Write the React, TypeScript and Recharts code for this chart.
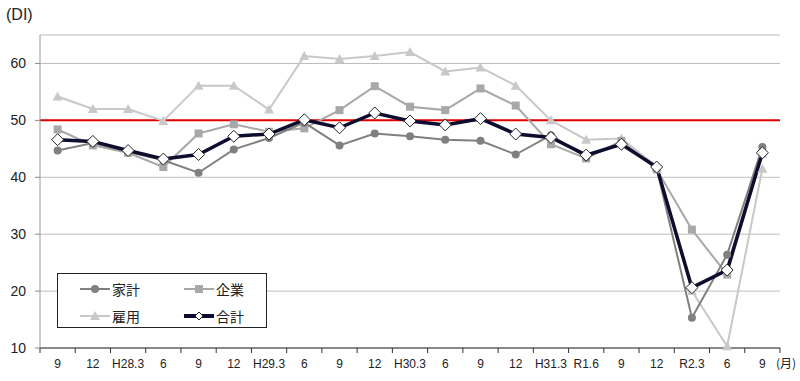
import {
  CartesianGrid,
  Line,
  LineChart,
  ReferenceLine,
  XAxis,
  YAxis,
} from "recharts";

const periods = [
  "9", "12", "H28.3", "6", "9", "12", "H29.3", "6", "9", "12", "H30.3",
  "6", "9", "12", "H31.3", "R1.6", "9", "12", "R2.3", "6", "9",
];
const household = [44.7, 46.0, 44.5, 43.0, 40.8, 44.9, 46.9, 49.6, 45.6, 47.7, 47.2, 46.6, 46.4, 44.0, 47.4, 43.5, 46.0, 41.6, 15.3, 26.4, 45.3];
const corporate = [48.4, 45.6, 44.3, 41.8, 47.7, 49.3, 48.0, 48.6, 51.8, 56.0, 52.4, 51.8, 55.6, 52.6, 45.8, 43.3, 46.4, 41.4, 30.8, 22.9, 44.2];
const employment = [54.2, 52.0, 52.0, 49.9, 56.1, 56.1, 51.9, 61.3, 60.8, 61.3, 62.0, 58.6, 59.3, 56.1, 50.0, 46.6, 46.8, 41.9, 20.0, 10.3, 41.5];
const total = [46.6, 46.3, 44.7, 43.2, 44.0, 47.2, 47.6, 50.1, 48.7, 51.3, 49.9, 49.2, 50.3, 47.6, 47.0, 43.9, 45.8, 41.8, 20.6, 23.7, 44.3];
const yTicks = [10, 20, 30, 40, 50, 60];

const data = periods.map((p, i) => ({
  idx: i,
  period: p,
  household: household[i],
  corporate: corporate[i],
  employment: employment[i],
  total: total[i],
}));

const FONT = "'Liberation Sans', 'Noto Sans CJK JP', sans-serif";
const JP = "'Noto Sans CJK JP', sans-serif";
const PLOT_W = 740;
const HALF = PLOT_W / periods.length / 2;

const C_HH = "#808080";
const C_CO = "#a8a8a8";
const C_EM = "#c8c8c8";
const C_TO = "#0d0d30";

const SquareDot = (props: any) => {
  const { cx, cy } = props;
  if (cx == null || cy == null) return null;
  return <rect x={cx - 4} y={cy - 4} width={8} height={8} fill={C_CO} />;
};

const TriangleDot = (props: any) => {
  const { cx, cy } = props;
  if (cx == null || cy == null) return null;
  return (
    <polygon
      points={`${cx},${cy - 5} ${cx + 5},${cy + 4} ${cx - 5},${cy + 4}`}
      fill={C_EM}
    />
  );
};

const DiamondDot = (props: any) => {
  const { cx, cy } = props;
  if (cx == null || cy == null) return null;
  return (
    <polygon
      points={`${cx},${cy - 6} ${cx + 6},${cy} ${cx},${cy + 6} ${cx - 6},${cy}`}
      fill="#fff"
      stroke="#222"
      strokeWidth={1}
    />
  );
};

const XTick = (props: any) => {
  const { x, y, payload, index } = props;
  const last = index === periods.length - 1;
  return (
    <g>
      <line x1={x - HALF} x2={x - HALF} y1={y - 5} y2={y} stroke="#333" />
      {last && (
        <line x1={x + HALF} x2={x + HALF} y1={y - 5} y2={y} stroke="#333" />
      )}
      <text
        x={x}
        y={y + 15}
        textAnchor="middle"
        fontSize={12}
        fontFamily={FONT}
        fill="#222"
      >
        {periods[payload.value]}
      </text>
    </g>
  );
};

const legendItems = [
  { name: "家計", color: C_HH, kind: "circle" },
  { name: "企業", color: C_CO, kind: "square" },
  { name: "雇用", color: C_EM, kind: "triangle" },
  { name: "合計", color: C_TO, kind: "diamond" },
];

const LegendIcon = ({ kind, color }: { kind: string; color: string }) => (
  <svg width={30} height={12} style={{ display: "block" }}>
    <line x1={0} x2={30} y1={6} y2={6} stroke={color} strokeWidth={kind === "diamond" ? 4 : 2} />
    {kind === "circle" && <circle cx={15} cy={6} r={4} fill={color} />}
    {kind === "square" && <rect x={11} y={2} width={8} height={8} fill={color} />}
    {kind === "triangle" && <polygon points="15,1 20,10 10,10" fill={color} />}
    {kind === "diamond" && (
      <polygon points="15,2 19,6 15,10 11,6" fill="#fff" stroke="#222" strokeWidth={1} />
    )}
  </svg>
);

const LegendBox = () => (
  <div
    style={{
      position: "absolute",
      left: 57,
      top: 273,
      width: 210,
      height: 55,
      border: "1px solid #222",
      background: "#fff",
      display: "grid",
      gridTemplateColumns: "104px 104px",
      gridTemplateRows: "28px 26px",
      boxSizing: "border-box",
      paddingLeft: 22,
      paddingTop: 1,
      fontFamily: JP,
      fontSize: 14,
      color: "#222",
    }}
  >
    {legendItems.map((it) => (
      <div key={it.name} style={{ display: "flex", alignItems: "center", gap: 2 }}>
        <LegendIcon kind={it.kind} color={it.color} />
        <span>{it.name}</span>
      </div>
    ))}
  </div>
);

export default function App() {
  return (
    <div style={{ position: "absolute", left: 0, top: 0, width: 800, height: 381, background: "#fff" }}>
      <LineChart
        width={800}
        height={381}
        data={data}
        margin={{ top: 35, right: 20, bottom: 0, left: 8 }}
      >
        <CartesianGrid vertical={false} stroke="#bdbdbd" />
        <XAxis
          dataKey="idx"
          type="category"
          scale="band"
          interval={0}
          height={33}
          tickSize={5}
          tickMargin={0}
          tickLine={false}
          tick={<XTick />}
          axisLine={{ stroke: "#333" }}
        />
        <XAxis xAxisId="top" orientation="top" height={0} tick={false} tickLine={false} axisLine={{ stroke: "#333" }} />
        <YAxis
          domain={[10, 65]}
          ticks={yTicks}
          width={32}
          tickSize={5}
          tickMargin={9}
          tickLine={{ stroke: "#888" }}
          axisLine={{ stroke: "#999" }}
          tick={{ fontSize: 14, fontFamily: FONT, fill: "#222" }}
        />
        <YAxis yAxisId="r" orientation="right" domain={[10, 65]} width={0} tick={false} tickLine={false} axisLine={{ stroke: "#333" }} />
        <ReferenceLine y={50} stroke="#e00000" strokeWidth={2} />
        <Line dataKey="employment" stroke={C_EM} strokeWidth={2} dot={<TriangleDot />} isAnimationActive={false} />
        <Line dataKey="corporate" stroke={C_CO} strokeWidth={2} dot={<SquareDot />} isAnimationActive={false} />
        <Line dataKey="household" stroke={C_HH} strokeWidth={2} dot={{ r: 4, fill: C_HH, stroke: "none" }} isAnimationActive={false} />
        <Line dataKey="total" stroke={C_TO} strokeWidth={3.5} dot={<DiamondDot />} isAnimationActive={false} />
        <text x={6} y={20} fontSize={16} fontFamily={FONT} fill="#222">(DI)</text>
        <text x={776} y={368} fontSize={12} fontFamily={JP} fill="#222">(月)</text>
      </LineChart>
      <LegendBox />
    </div>
  );
}
